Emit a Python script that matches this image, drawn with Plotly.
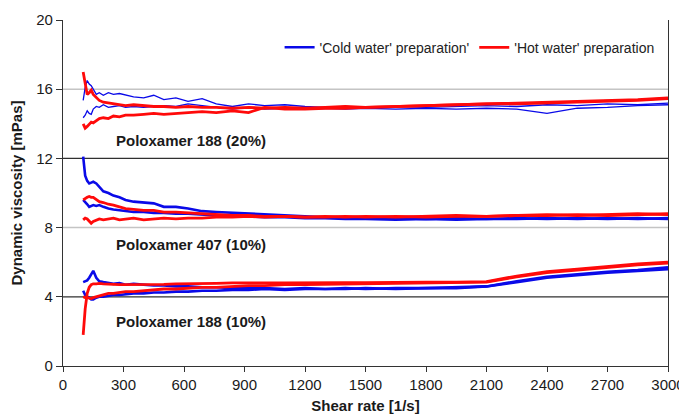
import plotly.graph_objects as go

# Shear rate grid [1/s]
shear = [100, 110, 120, 130, 140, 150, 165, 180, 200, 225, 250, 280, 310, 350, 400, 450, 500, 560, 620, 690,
         760, 840, 920, 1000, 1100, 1200, 1300, 1400, 1500, 1650, 1800, 1950, 2100, 2250, 2400, 2550, 2700, 2850, 3000]

# Poloxamer 188 (20%)
p188_20_cold_a = [15.35, 16.1, 16.5, 16.3, 16.2, 16.0, 15.7, 15.8, 15.65, 15.8, 15.7, 15.75, 15.65, 15.55, 15.5, 15.65, 15.4, 15.5, 15.3, 15.45,
                  15.15, 15.0, 15.15, 15.05, 15.1, 15.0, 14.95, 15.0, 14.95, 15.0, 14.95, 15.0, 15.05, 15.0, 15.1, 15.05, 15.15, 15.1, 15.2]
p188_20_cold_b = [14.35, 14.5, 14.75, 14.6, 14.55, 14.85, 15.0, 14.95, 15.1, 14.95, 15.0, 15.05, 14.95, 15.0, 14.95, 15.0, 15.05, 15.0, 15.15, 15.05,
                  14.95, 14.85, 14.95, 14.85, 14.9, 14.85, 14.9, 14.85, 14.9, 14.85, 14.9, 14.85, 14.9, 14.85, 14.6, 14.9, 14.95, 15.05, 15.1]
p188_20_hot_a = [17.0, 16.3, 15.7, 15.8, 15.95, 15.7, 15.5, 15.35, 15.25, 15.2, 15.15, 15.1, 15.05, 15.1, 15.05, 15.0, 15.0, 14.95, 15.0, 14.95,
                 14.95, 14.9, 14.95, 14.9, 14.95, 14.9, 14.95, 15.0, 14.95, 15.0, 15.05, 15.1, 15.15, 15.15, 15.2, 15.25, 15.3, 15.35, 15.45]
p188_20_hot_b = [14.0, 13.75, 13.85, 14.0, 14.1, 14.05, 14.2, 14.3, 14.35, 14.3, 14.45, 14.4, 14.5, 14.5, 14.55, 14.6, 14.55, 14.6, 14.65, 14.7,
                 14.65, 14.75, 14.65, 14.95, 14.85, 14.85, 14.9, 14.9, 14.95, 15.0, 15.05, 15.1, 15.15, 15.2, 15.25, 15.3, 15.35, 15.4, 15.5]

# Poloxamer 407 (10%)
p407_cold_a = [12.1, 11.0, 10.7, 10.55, 10.6, 10.65, 10.55, 10.35, 10.1, 10.0, 9.85, 9.75, 9.6, 9.5, 9.45, 9.4, 9.2, 9.2, 9.1, 8.95,
               8.9, 8.85, 8.8, 8.75, 8.7, 8.65, 8.6, 8.6, 8.55, 8.55, 8.5, 8.55, 8.5, 8.55, 8.5, 8.55, 8.5, 8.55, 8.5]
p407_cold_b = [9.6, 9.5, 9.35, 9.2, 9.25, 9.3, 9.25, 9.3, 9.2, 9.1, 9.05, 9.0, 8.95, 8.9, 8.9, 8.85, 8.85, 8.8, 8.8, 8.75,
               8.7, 8.7, 8.65, 8.6, 8.6, 8.55, 8.55, 8.5, 8.5, 8.45, 8.5, 8.45, 8.5, 8.5, 8.55, 8.5, 8.55, 8.5, 8.55]
p407_hot_a = [9.6, 9.7, 9.75, 9.8, 9.75, 9.75, 9.6, 9.5, 9.45, 9.35, 9.3, 9.2, 9.1, 9.05, 9.0, 9.0, 8.9, 8.9, 8.85, 8.8,
              8.75, 8.7, 8.7, 8.65, 8.65, 8.6, 8.6, 8.65, 8.6, 8.65, 8.6, 8.65, 8.65, 8.7, 8.7, 8.75, 8.7, 8.75, 8.8]
p407_hot_b = [8.45, 8.55, 8.5, 8.35, 8.25, 8.35, 8.45, 8.5, 8.45, 8.5, 8.55, 8.45, 8.5, 8.55, 8.45, 8.5, 8.55, 8.5, 8.55, 8.55,
              8.6, 8.6, 8.65, 8.6, 8.65, 8.6, 8.65, 8.6, 8.65, 8.6, 8.65, 8.7, 8.65, 8.7, 8.75, 8.7, 8.75, 8.8, 8.75]

# Poloxamer 188 (10%)
p188_10_cold_a = [4.85, 4.9, 4.95, 5.1, 5.35, 5.5, 5.1, 4.9, 4.85, 4.8, 4.75, 4.8, 4.7, 4.75, 4.7, 4.65, 4.65, 4.6, 4.6, 4.55,
                  4.55, 4.5, 4.5, 4.5, 4.45, 4.5, 4.45, 4.45, 4.5, 4.45, 4.5, 4.5, 4.6, 4.9, 5.15, 5.3, 5.45, 5.55, 5.7]
p188_10_cold_b = [4.35, 4.1, 4.0, 3.95, 3.85, 3.85, 3.95, 4.0, 4.0, 4.05, 4.1, 4.1, 4.15, 4.2, 4.2, 4.25, 4.25, 4.3, 4.3, 4.35,
                  4.35, 4.4, 4.4, 4.45, 4.4, 4.45, 4.45, 4.5, 4.45, 4.5, 4.5, 4.55, 4.6, 4.85, 5.1, 5.25, 5.4, 5.5, 5.6]
p188_10_hot_a = [1.8, 3.3, 4.2, 4.55, 4.7, 4.75, 4.75, 4.78, 4.75, 4.75, 4.72, 4.7, 4.7, 4.7, 4.72, 4.7, 4.72, 4.75, 4.75, 4.75,
                 4.78, 4.8, 4.78, 4.8, 4.8, 4.82, 4.8, 4.82, 4.82, 4.85, 4.85, 4.85, 4.88, 5.2, 5.45, 5.6, 5.75, 5.9, 6.0]
p188_10_hot_b = [4.0, 3.95, 3.95, 3.92, 3.9, 3.95, 4.0, 4.05, 4.15, 4.2, 4.2, 4.25, 4.3, 4.3, 4.35, 4.4, 4.45, 4.45, 4.5, 4.55,
                 4.55, 4.6, 4.65, 4.65, 4.7, 4.7, 4.72, 4.75, 4.75, 4.78, 4.8, 4.82, 4.85, 5.15, 5.4, 5.55, 5.7, 5.85, 5.95]

cold_name = "'Cold water' preparation'"
hot_name = "'Hot water' preparation"
blue = "#0a0ae8"
red = "#ff0a0a"

grid_light = [8, 16]
grid_dark = [4, 12]

labels = ["Poloxamer 188 (20%)", "Poloxamer 407 (10%)", "Poloxamer 188 (10%)"]
label_y = [13.05, 7.05, 2.6]
label_x = 255

fig = go.Figure()

series = [
    (p188_20_cold_a, blue, 1.3, False, cold_name),
    (p188_20_cold_b, blue, 1.3, False, cold_name),
    (p407_cold_a, blue, 2.6, False, cold_name),
    (p407_cold_b, blue, 2.6, False, cold_name),
    (p188_10_cold_a, blue, 2.6, True, cold_name),
    (p188_10_cold_b, blue, 2.6, False, cold_name),
    (p188_20_hot_a, red, 2.8, False, hot_name),
    (p188_20_hot_b, red, 2.8, False, hot_name),
    (p407_hot_a, red, 2.8, False, hot_name),
    (p407_hot_b, red, 2.8, False, hot_name),
    (p188_10_hot_a, red, 2.8, True, hot_name),
    (p188_10_hot_b, red, 2.8, False, hot_name),
]
for ys, col, w, show, name in series:
    fig.add_trace(go.Scatter(x=shear, y=ys, mode="lines", name=name, showlegend=show,
                             line=dict(color=col, width=w), legendgroup=name))

shapes = []
for g in grid_light:
    shapes.append(dict(type="line", xref="paper", x0=0, x1=1, yref="y", y0=g, y1=g,
                       line=dict(color="#c4c4c4", width=1.5), layer="below"))
for g in grid_dark:
    shapes.append(dict(type="line", xref="paper", x0=0, x1=1, yref="y", y0=g, y1=g,
                       line=dict(color="#303030", width=1.2), layer="below"))

annotations = [dict(x=label_x, y=yy, xref="x", yref="y", text="<b>%s</b>" % t, showarrow=False,
                    xanchor="left", yanchor="middle", font=dict(size=15, color="#1a1a1a"))
               for t, yy in zip(labels, label_y)]

# the page body adds an 8px offset, so the figure is sized to fit the 687x420 window
fig.update_layout(
    width=679, height=412,
    margin=dict(l=55, r=19, t=12, b=54),
    paper_bgcolor="white", plot_bgcolor="white",
    font=dict(family="Liberation Sans, Arial, sans-serif", color="#222"),
    shapes=shapes,
    annotations=annotations,
    showlegend=True,
    legend=dict(orientation="h", x=0.358, y=0.92, xanchor="left", yanchor="middle",
                font=dict(size=14, color="#222"), itemwidth=30, bgcolor="rgba(0,0,0,0)",
                traceorder="normal"),
    xaxis=dict(range=[0, 3000], dtick=300, tick0=0, showgrid=False, zeroline=False, automargin=False,
               showline=True, linecolor="#333", linewidth=1.2, ticks="outside", ticklen=5,
               tickcolor="#333", tickfont=dict(size=15, color="#1a1a1a"),
               title=dict(text="<b>Shear rate [1/s]</b>", font=dict(size=15, color="#1a1a1a"), standoff=8)),
    yaxis=dict(range=[0, 20], dtick=4, tick0=0, showgrid=False, zeroline=False, automargin=False,
               showline=True, mirror=True, linecolor="#333", linewidth=1.2, ticks="outside", ticklen=6,
               tickcolor="#333", tickfont=dict(size=15, color="#1a1a1a"),
               title=dict(text="<b>Dynamic viscosity [mPas]</b>", font=dict(size=15, color="#1a1a1a"), standoff=10)),
)

fig.write_html("out.html")
